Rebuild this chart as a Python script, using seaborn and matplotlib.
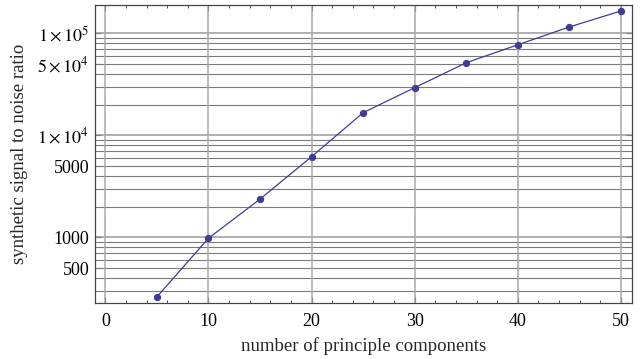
import numpy as np
import pandas as pd
import matplotlib
matplotlib.use("Agg")
import matplotlib.pyplot as plt
import seaborn as sns
from matplotlib.ticker import FixedLocator, FixedFormatter, MultipleLocator

# number of principal components vs. synthetic SNR
components = [5, 10, 15, 20, 25, 30, 35, 40, 45, 50]
snr = [260, 980, 2370, 6180, 16700, 29400, 51600, 77400, 115800, 166000]

y_tick_values = [500, 1000, 5000, 1e4, 5e4, 1e5]
y_tick_labels = ["500", "1000", "5000", r"$1\times10^{4}$", r"$5\times10^{4}$", r"$1\times10^{5}$"]
x_tick_values = [0, 10, 20, 30, 40, 50]

sns.set_style("ticks")
plt.rcParams["font.family"] = ["Liberation Serif", "DejaVu Serif"]
plt.rcParams["mathtext.fontset"] = "stix"

df = pd.DataFrame({"components": components, "snr": snr})

fig = plt.figure(figsize=(6.44, 3.59), dpi=100)
ax = fig.add_axes([95 / 644, 1 - 303 / 359, (632 - 95) / 644, (303 - 5) / 359])

line_color = "#3d3d99"
sns.lineplot(data=df, x="components", y="snr", ax=ax, color=line_color,
             linewidth=0.9, marker="o", markersize=4.5,
             markeredgecolor=line_color, markerfacecolor=line_color, zorder=5)

ax.set_yscale("log")
ax.set_xlim(-1, 51.07)
ax.set_ylim(227, 1.9e5)

# horizontal grid at every 1..9 x decade
grid_vals = [m * 10 ** e for e in range(2, 6) for m in range(1, 10)]
for v in grid_vals:
    if 227 < v < 1.9e5:
        major = v in (1e3, 1e4, 1e5)
        ax.axhline(v, color="#9a9a9a" if major else "#7a7a7a",
                   lw=1.1 if major else 0.8, zorder=1)
for v in x_tick_values:
    ax.axvline(v, color="#a8a8a8", lw=1.1, zorder=1)

ax.yaxis.set_major_locator(FixedLocator(y_tick_values))
ax.yaxis.set_major_formatter(FixedFormatter(y_tick_labels))
ax.yaxis.set_minor_locator(FixedLocator([v for v in grid_vals if v not in y_tick_values]))
ax.yaxis.set_minor_formatter(FixedFormatter([]))
ax.xaxis.set_major_locator(FixedLocator(x_tick_values))
ax.xaxis.set_minor_locator(MultipleLocator(2))

ax.tick_params(which="both", direction="in", top=True, right=True,
               colors="#333333", labelcolor="black", labelsize=13)
ax.tick_params(which="major", length=4, width=0.8)
ax.tick_params(which="minor", length=2, width=0.6)
ax.tick_params(axis="x", pad=7)
ax.tick_params(axis="y", pad=4)

for s in ax.spines.values():
    s.set_color("#444444")
    s.set_linewidth(0.9)

ax.set_xlabel("number of principle components", fontsize=13.5, labelpad=5)
ax.set_ylabel("synthetic signal to noise ratio", fontsize=13.5, labelpad=7)

fig.savefig("out.png", dpi=100)
